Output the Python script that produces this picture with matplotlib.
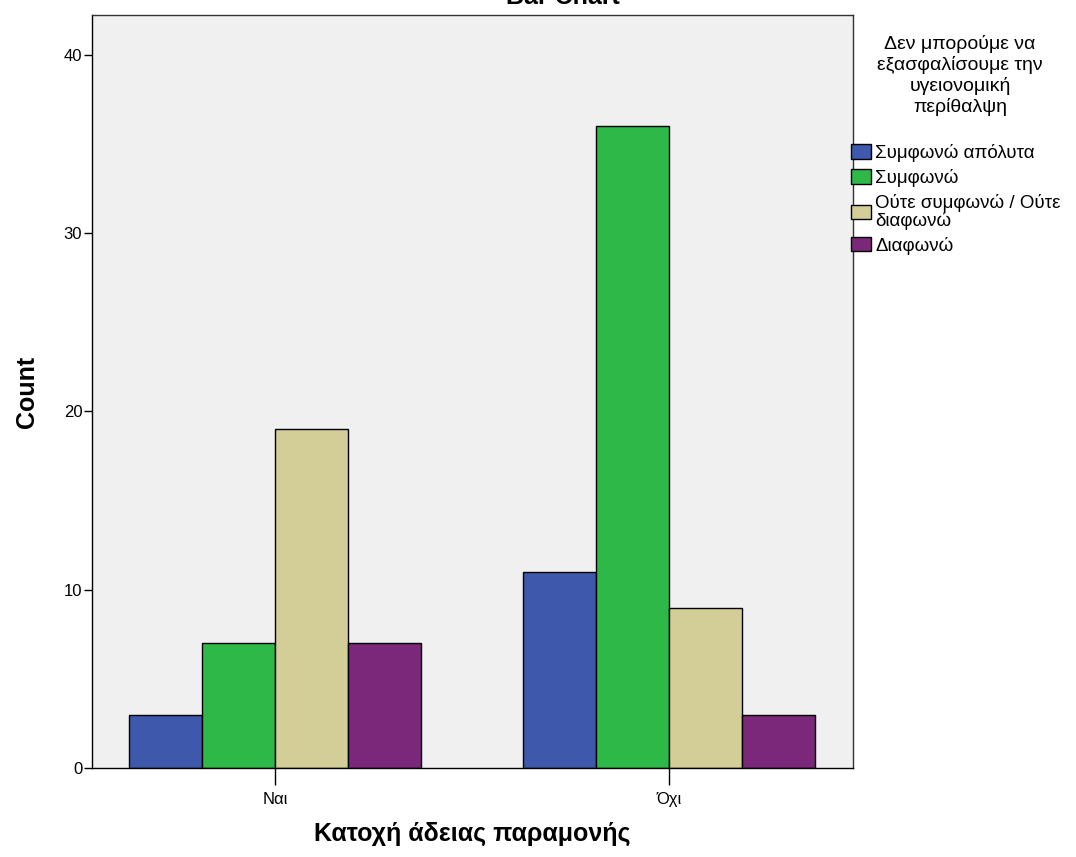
import numpy as np
import matplotlib
matplotlib.use("Agg")
import matplotlib.pyplot as plt

plt.rcParams['font.family'] = ['Liberation Sans', 'DejaVu Sans']

# data
groups = ["Ναι", "Όχι"]
series = ["Συμφωνώ απόλυτα", "Συμφωνώ", "Ούτε συμφωνώ / Ούτε\nδιαφωνώ", "Διαφωνώ"]
counts = [
    [3, 11],
    [7, 36],
    [19, 9],
    [7, 3],
]
colors = ["#3e58ac", "#2eb848", "#d3ce97", "#7b277a"]
yticks = [0, 10, 20, 30, 40]
legend_title = "Δεν μπορούμε να\nεξασφαλίσουμε την\nυγειονομική\nπερίθαλψη"

fig = plt.figure(figsize=(10.76, 8.57), dpi=100)
ax = fig.add_axes([92/1076, 89/857, (853-92)/1076, (768-15)/857])
ax.set_facecolor("#f0f0f0")

x = np.arange(len(groups))
width = 0.1855
handles = []
for i, name in enumerate(series):
    b = ax.bar(x + (i - 2) * width, counts[i], width, align='edge',
               color=colors[i], edgecolor='black', linewidth=1, label=name)
    handles.append(b)

ax.set_xlim(-0.466, 1.468)
ax.set_ylim(0, 42.24)
ax.set_yticks(yticks)
ax.set_xticks(x)
ax.set_xticklabels(groups)
ax.tick_params(axis='y', direction='out', length=6, width=1, labelsize=12, pad=1)
ax.tick_params(axis='x', direction='out', length=12, width=1, labelsize=12, pad=5)
for s in ax.spines.values():
    s.set_linewidth(1)
    s.set_color('#333333')
ax.spines['left'].set_color('black')
ax.spines['bottom'].set_color('black')

ax.set_ylabel("Count", fontsize=18, fontweight='bold', va='center')
ax.yaxis.set_label_coords(-0.085, 0.5)
ax.set_xlabel("Κατοχή άδειας παραμονής", fontsize=18, fontweight='bold', va='center')
ax.xaxis.set_label_coords(0.5, -0.087)

fig.text(563/1076, 1 - 4/857, "Bar Chart", ha='center', va='baseline',
         fontsize=18, fontweight='bold')

# legend title drawn on its own so the gap above the entries matches
fig.text(960/1076, 1 - 35/857, legend_title, ha='center', va='top',
         multialignment='center', fontsize=14, linespacing=1.22)

leg = fig.legend(handles=handles, labels=series,
                 loc='upper left', bbox_to_anchor=(851/1076, 1 - 144/857),
                 frameon=False, fontsize=13.5,
                 handlelength=1.05, handleheight=0.8, handletextpad=0.25,
                 labelspacing=0.38, borderpad=0, borderaxespad=0)
for t in leg.get_texts():
    t.set_linespacing(0.95)

fig.savefig("out.png", dpi=100)
